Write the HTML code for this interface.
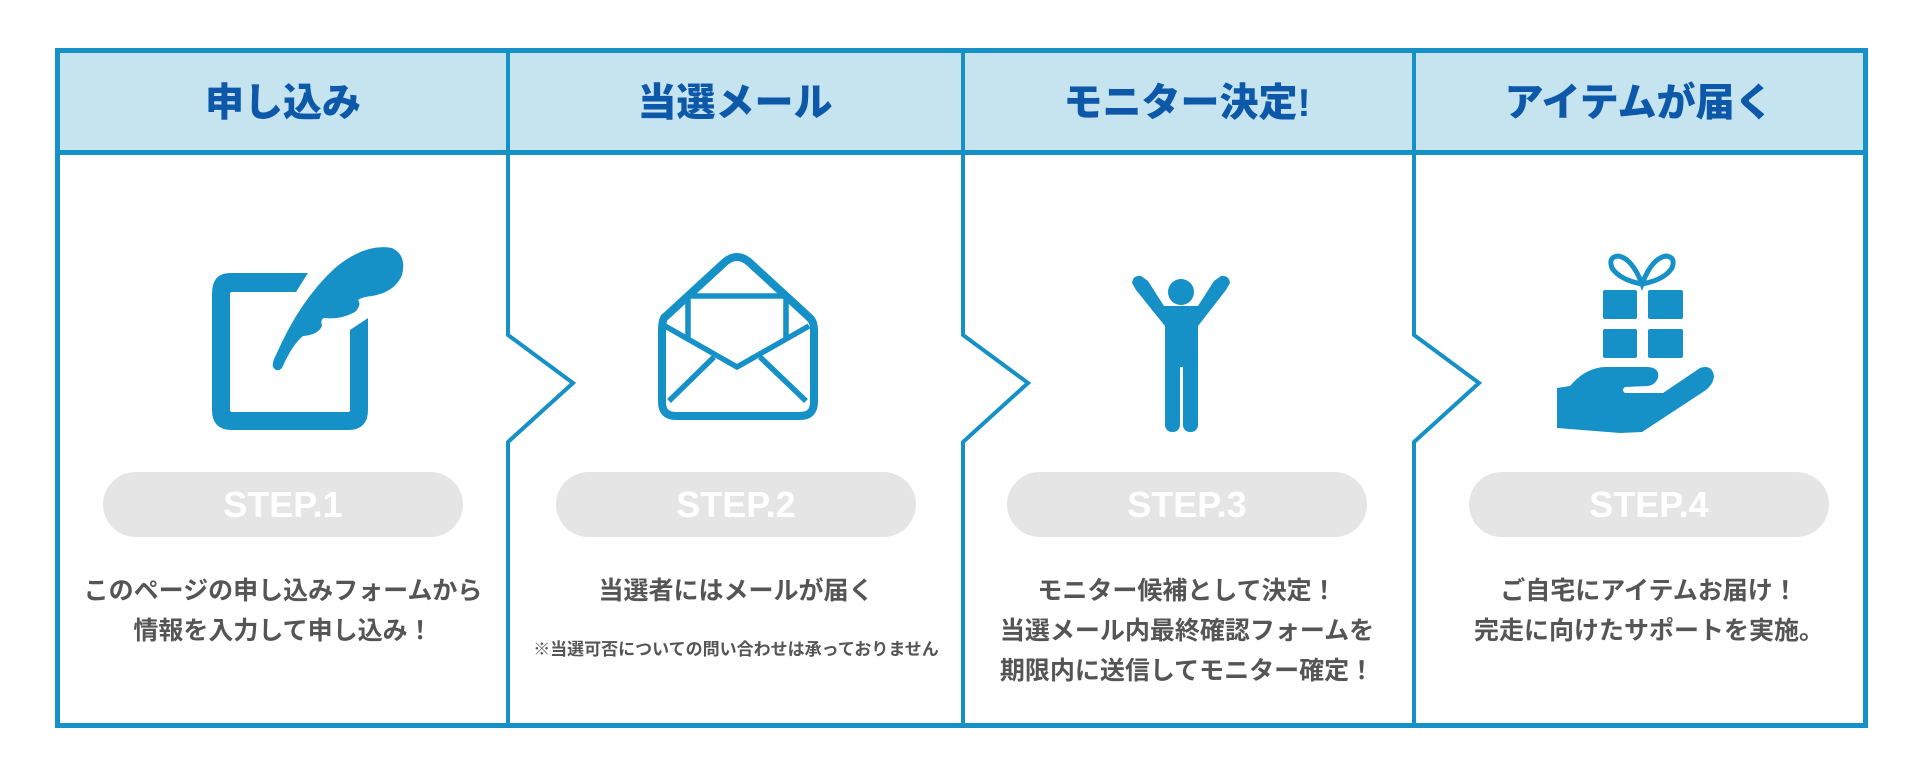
<!DOCTYPE html>
<html><head><meta charset="utf-8"><style>
html,body{margin:0;padding:0;background:#fff;}
svg{display:block;}
.h{font-family:"Liberation Sans","Noto Sans CJK JP",sans-serif;font-weight:900;font-size:39px;fill:#0d58a8;text-anchor:middle;}
.s{font-family:"Liberation Sans","Noto Sans CJK JP",sans-serif;font-weight:700;font-size:36px;fill:#fff;text-anchor:middle;}
.d{font-family:"Liberation Sans","Noto Sans CJK JP",sans-serif;font-weight:700;font-size:25px;fill:#555;text-anchor:middle;}
.n{font-family:"Liberation Sans","Noto Sans CJK JP",sans-serif;font-weight:700;font-size:17px;fill:#555;text-anchor:middle;}
</style></head><body>
<svg width="1920" height="779" viewBox="0 0 1920 779" xmlns="http://www.w3.org/2000/svg">
<rect x="57.5" y="50.5" width="1808" height="102" fill="#c5e4f0"/>
<g fill="none" stroke="#1591c7" stroke-width="5">
<rect x="57.5" y="50.5" width="1808" height="675"/>
<line x1="57" y1="152.5" x2="1866" y2="152.5"/>
</g>
<g fill="none" stroke="#1591c7" stroke-width="4">
<polyline points="508,50 508,335 573,383 508,442 508,726"/>
<polyline points="963,50 963,335 1028,383 963,442 963,726"/>
<polyline points="1414,50 1414,335 1479,383 1414,442 1414,726"/>
</g>
<text class="h" x="283" y="116">申し込み</text>
<text class="h" x="735" y="116">当選メール</text>
<text class="h" x="1187" y="116">モニター決定!</text>
<text class="h" x="1639" y="116">アイテムが届く</text>

<!-- pencil icon -->
<g fill="#1591c7">
<path d="M230,273 L308,273 L296,292 L232,292 Q230,292 230,294 L230,410 Q230,412 232,412 L348,412 Q350,412 350,410 L350,330 L368,318 L368,410 Q368,430 348,430 L232,430 Q212,430 212,410 L212,294 Q212,273 230,273 Z"/>
<path d="M273,367 Q272,362 276,355 Q300,300 335,268 Q365,243 392,248 Q407,255 402,275 Q395,292 372,296 Q362,297 358,300 Q362,305 355,312 Q340,320 325,318 Q320,318 322,326 Q318,335 303,336 Q292,345 282,368 Q277,373 273,367 Z"/>
</g>

<!-- envelope -->
<g fill="none" stroke="#1591c7" stroke-width="8" stroke-linejoin="round">
<path d="M664,318 L725,262 Q737,252 749,262 L810,318 Q814,322 814,330 L814,402 Q814,416 800,416 L676,416 Q662,416 662,402 L662,330 Q662,322 664,318 Z"/>
</g>
<g fill="none" stroke="#1591c7" stroke-width="5.5">
<path d="M688,339 L688,296 L786,296 L786,339"/>
<path d="M665,326 L737,367 L809,326"/>
<path d="M669,401 L714,357 M760,357 L806,401"/>
</g>

<!-- person -->
<g fill="#1591c7">
<circle cx="1181" cy="292" r="13"/>
<path d="M1132,283 Q1133,275 1141,276 L1148,281 L1164,306 L1198,306 L1214,281 L1221,276 Q1229,275 1230,283 L1226,290 L1198,326 L1198,367 L1165,367 L1165,326 L1136,290 Z"/>
<rect x="1165" y="360" width="15" height="72" rx="7"/>
<rect x="1183" y="360" width="15" height="72" rx="7"/>
</g>

<!-- gift -->
<g fill="#1591c7">
<rect x="1603" y="290" width="34" height="29" rx="2"/>
<rect x="1648" y="290" width="35" height="29" rx="2"/>
<rect x="1603" y="329" width="34" height="29" rx="2"/>
<rect x="1648" y="329" width="35" height="29" rx="2"/>
<path d="M1557,388 L1570,386 Q1585,368 1605,367 L1648,367 Q1660,368 1658,378 Q1655,385 1648,386 L1625,387 Q1621,390 1625,393 L1663,393 L1700,368 Q1712,364 1714,376 Q1714,383 1706,390 L1642,432 L1620,433 L1557,428 Z"/>
</g>
<g fill="none" stroke="#1591c7" stroke-width="5">
<path d="M1642,284 Q1620,280 1612,268 Q1608,257 1618,256 Q1632,258 1642,284 Q1652,258 1666,256 Q1676,257 1672,268 Q1664,280 1642,284 Z"/>
</g>

<!-- step pills -->
<g fill="#e5e5e5">
<rect x="103" y="472" width="360" height="65" rx="32.5"/>
<rect x="556" y="472" width="360" height="65" rx="32.5"/>
<rect x="1007" y="472" width="360" height="65" rx="32.5"/>
<rect x="1469" y="472" width="360" height="65" rx="32.5"/>
</g>
<text class="s" x="283" y="517">STEP.1</text>
<text class="s" x="736" y="517">STEP.2</text>
<text class="s" x="1187" y="517">STEP.3</text>
<text class="s" x="1649" y="517">STEP.4</text>

<text class="d" x="283" y="599">このページの申し込みフォームから</text>
<text class="d" x="283" y="639">情報を入力して申し込み！</text>
<text class="d" x="736" y="599">当選者にはメールが届く</text>
<text class="n" x="736" y="655">※当選可否についての問い合わせは承っておりません</text>
<text class="d" x="1187" y="599">モニター候補として決定！</text>
<text class="d" x="1187" y="639">当選メール内最終確認フォームを</text>
<text class="d" x="1187" y="679">期限内に送信してモニター確定！</text>
<text class="d" x="1649" y="599">ご自宅にアイテムお届け！</text>
<text class="d" x="1649" y="639">完走に向けたサポートを実施。</text>
</svg>
</body></html>
